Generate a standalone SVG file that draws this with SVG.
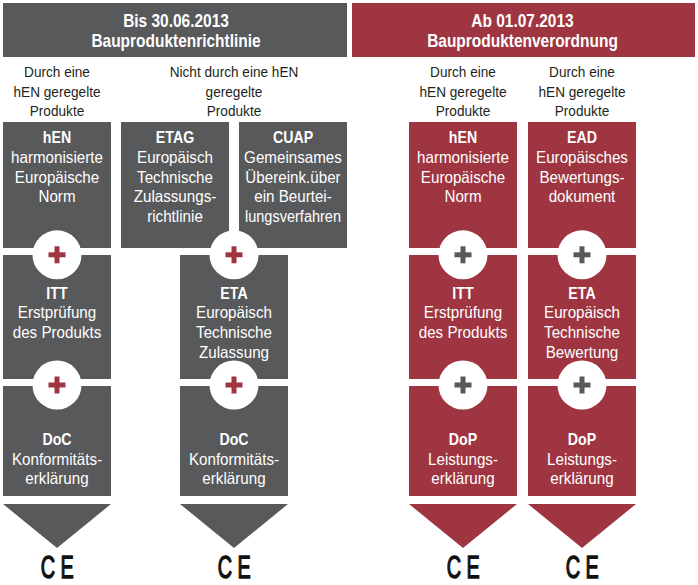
<svg xmlns="http://www.w3.org/2000/svg" xmlns:xlink="http://www.w3.org/1999/xlink" width="698" height="585" viewBox="0 0 698 585">
<style>
.g{fill:#58595b}
.r{fill:#9e3541}
.t{font-family:"Liberation Sans",Arial,sans-serif;text-anchor:middle}
.w{fill:#ffffff;font-size:16.5px}
.wb{fill:#ffffff;font-size:16.5px;font-weight:bold}
.h{fill:#ffffff;font-size:18px;font-weight:bold}
.s{fill:#231f20;font-size:14.8px}
.ce{fill:#111111;stroke:#111111;stroke-width:1.4px;font-size:32px;letter-spacing:9px}
</style>
<defs>
<g id="plus-r"><circle r="24.5" fill="#ffffff"/><rect x="-8.5" y="-2.5" width="17" height="5" fill="#9e3541"/><rect x="-2.5" y="-8.5" width="5" height="17" fill="#9e3541"/></g>
<g id="plus-g"><circle r="24.5" fill="#ffffff"/><rect x="-8.5" y="-2.5" width="17" height="5" fill="#58595b"/><rect x="-2.5" y="-8.5" width="5" height="17" fill="#58595b"/></g>
</defs>
<rect width="698" height="585" fill="#ffffff"/>

<g id="header-left">
<rect class="g" x="3" y="3" width="344" height="54"/>
<text class="t h" transform="translate(176 26.8) scale(0.86 1)">Bis 30.06.2013</text>
<text class="t h" transform="translate(176 46.7) scale(0.86 1)">Bauproduktenrichtlinie</text>
</g>
<g id="header-right">
<rect class="r" x="352" y="3" width="343" height="54"/>
<text class="t h" transform="translate(522.5 26.8) scale(0.86 1)">Ab 01.07.2013</text>
<text class="t h" transform="translate(522.5 46.7) scale(0.86 1)">Bauproduktenverordnung</text>
</g>

<g id="label-col1">
<text class="t s" transform="translate(57 77) scale(0.92 1)">Durch eine</text>
<text class="t s" transform="translate(57 96.5) scale(0.92 1)">hEN geregelte</text>
<text class="t s" transform="translate(57 116) scale(0.92 1)">Produkte</text>
</g>
<g id="label-col2">
<text class="t s" transform="translate(234 77) scale(0.92 1)">Nicht durch eine hEN</text>
<text class="t s" transform="translate(234 96.5) scale(0.92 1)">geregelte</text>
<text class="t s" transform="translate(234 116) scale(0.92 1)">Produkte</text>
</g>
<g id="label-col3">
<text class="t s" transform="translate(463 77) scale(0.92 1)">Durch eine</text>
<text class="t s" transform="translate(463 96.5) scale(0.92 1)">hEN geregelte</text>
<text class="t s" transform="translate(463 116) scale(0.92 1)">Produkte</text>
</g>
<g id="label-col4">
<text class="t s" transform="translate(582 77) scale(0.92 1)">Durch eine</text>
<text class="t s" transform="translate(582 96.5) scale(0.92 1)">hEN geregelte</text>
<text class="t s" transform="translate(582 116) scale(0.92 1)">Produkte</text>
</g>

<!-- column 1 (grey) -->
<g id="hEN-1">
<rect class="g" x="3" y="122" width="108" height="126"/>
<text class="t wb" transform="translate(57 143) scale(0.86 1)">hEN</text>
<text class="t w" transform="translate(57 162.8) scale(0.92 1)">harmonisierte</text>
<text class="t w" transform="translate(57 182.6) scale(0.92 1)">Europäische</text>
<text class="t w" transform="translate(57 202.3) scale(0.92 1)">Norm</text>
</g>
<g id="ITT-1">
<rect class="g" x="3" y="255" width="108" height="124"/>
<text class="t wb" transform="translate(57 298.5) scale(0.86 1)">ITT</text>
<text class="t w" transform="translate(57 318.3) scale(0.92 1)">Erstprüfung</text>
<text class="t w" transform="translate(57 338) scale(0.92 1)">des Produkts</text>
</g>
<g id="DoC-1">
<rect class="g" x="3" y="386" width="108" height="110"/>
<text class="t wb" transform="translate(57 445) scale(0.86 1)">DoC</text>
<text class="t w" transform="translate(57 464.7) scale(0.92 1)">Konformitäts-</text>
<text class="t w" transform="translate(57 484.3) scale(0.92 1)">erklärung</text>
</g>
<g id="CE-1"><text class="t ce" transform="translate(60 578) scale(0.62 1)">CE</text></g>

<!-- column 2 (grey) -->
<g id="ETAG">
<rect class="g" x="121" y="122" width="108" height="126"/>
<text class="t wb" transform="translate(175 143) scale(0.86 1)">ETAG</text>
<text class="t w" transform="translate(175 162.8) scale(0.92 1)">Europäisch</text>
<text class="t w" transform="translate(175 182.6) scale(0.92 1)">Technische</text>
<text class="t w" transform="translate(175 202.3) scale(0.92 1)">Zulassungs-</text>
<text class="t w" transform="translate(175 222) scale(0.92 1)">richtlinie</text>
</g>
<g id="CUAP">
<rect class="g" x="239" y="122" width="108" height="126"/>
<text class="t wb" transform="translate(293 143) scale(0.86 1)">CUAP</text>
<text class="t w" transform="translate(293 162.8) scale(0.92 1)">Gemeinsames</text>
<text class="t w" transform="translate(293 182.6) scale(0.92 1)">Übereink.über</text>
<text class="t w" transform="translate(293 202.3) scale(0.92 1)">ein Beurtei-</text>
<text class="t w" transform="translate(293 222) scale(0.88 1)">lungsverfahren</text>
</g>
<g id="ETA-1">
<rect class="g" x="180" y="255" width="108" height="124"/>
<text class="t wb" transform="translate(234 298.5) scale(0.86 1)">ETA</text>
<text class="t w" transform="translate(234 318.3) scale(0.92 1)">Europäisch</text>
<text class="t w" transform="translate(234 338) scale(0.92 1)">Technische</text>
<text class="t w" transform="translate(234 357.7) scale(0.92 1)">Zulassung</text>
</g>
<g id="DoC-2">
<rect class="g" x="180" y="386" width="108" height="110"/>
<text class="t wb" transform="translate(234 445) scale(0.86 1)">DoC</text>
<text class="t w" transform="translate(234 464.7) scale(0.92 1)">Konformitäts-</text>
<text class="t w" transform="translate(234 484.3) scale(0.92 1)">erklärung</text>
</g>
<g id="CE-2"><text class="t ce" transform="translate(237 578) scale(0.62 1)">CE</text></g>

<!-- column 3 (red) -->
<g id="hEN-2">
<rect class="r" x="409" y="122" width="108" height="126"/>
<text class="t wb" transform="translate(463 143) scale(0.86 1)">hEN</text>
<text class="t w" transform="translate(463 162.8) scale(0.92 1)">harmonisierte</text>
<text class="t w" transform="translate(463 182.6) scale(0.92 1)">Europäische</text>
<text class="t w" transform="translate(463 202.3) scale(0.92 1)">Norm</text>
</g>
<g id="ITT-2">
<rect class="r" x="409" y="255" width="108" height="124"/>
<text class="t wb" transform="translate(463 298.5) scale(0.86 1)">ITT</text>
<text class="t w" transform="translate(463 318.3) scale(0.92 1)">Erstprüfung</text>
<text class="t w" transform="translate(463 338) scale(0.92 1)">des Produkts</text>
</g>
<g id="DoP-1">
<rect class="r" x="409" y="386" width="108" height="110"/>
<text class="t wb" transform="translate(463 445) scale(0.86 1)">DoP</text>
<text class="t w" transform="translate(463 464.7) scale(0.92 1)">Leistungs-</text>
<text class="t w" transform="translate(463 484.3) scale(0.92 1)">erklärung</text>
</g>
<g id="CE-3"><text class="t ce" transform="translate(466 578) scale(0.62 1)">CE</text></g>

<!-- column 4 (red) -->
<g id="EAD">
<rect class="r" x="528" y="122" width="108" height="126"/>
<text class="t wb" transform="translate(582 143) scale(0.86 1)">EAD</text>
<text class="t w" transform="translate(582 162.8) scale(0.92 1)">Europäisches</text>
<text class="t w" transform="translate(582 182.6) scale(0.92 1)">Bewertungs-</text>
<text class="t w" transform="translate(582 202.3) scale(0.92 1)">dokument</text>
</g>
<g id="ETA-2">
<rect class="r" x="528" y="255" width="108" height="124"/>
<text class="t wb" transform="translate(582 298.5) scale(0.86 1)">ETA</text>
<text class="t w" transform="translate(582 318.3) scale(0.92 1)">Europäisch</text>
<text class="t w" transform="translate(582 338) scale(0.92 1)">Technische</text>
<text class="t w" transform="translate(582 357.7) scale(0.92 1)">Bewertung</text>
</g>
<g id="DoP-2">
<rect class="r" x="528" y="386" width="108" height="110"/>
<text class="t wb" transform="translate(582 445) scale(0.86 1)">DoP</text>
<text class="t w" transform="translate(582 464.7) scale(0.92 1)">Leistungs-</text>
<text class="t w" transform="translate(582 484.3) scale(0.92 1)">erklärung</text>
</g>
<g id="CE-4"><text class="t ce" transform="translate(585 578) scale(0.62 1)">CE</text></g>

<g id="connectors">
<use xlink:href="#plus-r" href="#plus-r" x="57" y="254.8"/>
<use xlink:href="#plus-r" href="#plus-r" x="57" y="385"/>
<use xlink:href="#plus-r" href="#plus-r" x="234" y="254.8"/>
<use xlink:href="#plus-r" href="#plus-r" x="234" y="385"/>
<use xlink:href="#plus-g" href="#plus-g" x="463" y="254.8"/>
<use xlink:href="#plus-g" href="#plus-g" x="463" y="385"/>
<use xlink:href="#plus-g" href="#plus-g" x="582" y="254.8"/>
<use xlink:href="#plus-g" href="#plus-g" x="582" y="385"/>
<polygon class="g" points="3,504 111,504 57,548"/>
<polygon class="g" points="180,504 288,504 234,548"/>
<polygon class="r" points="409,504 517,504 463,548"/>
<polygon class="r" points="528,504 636,504 582,548"/>
</g>
</svg>
